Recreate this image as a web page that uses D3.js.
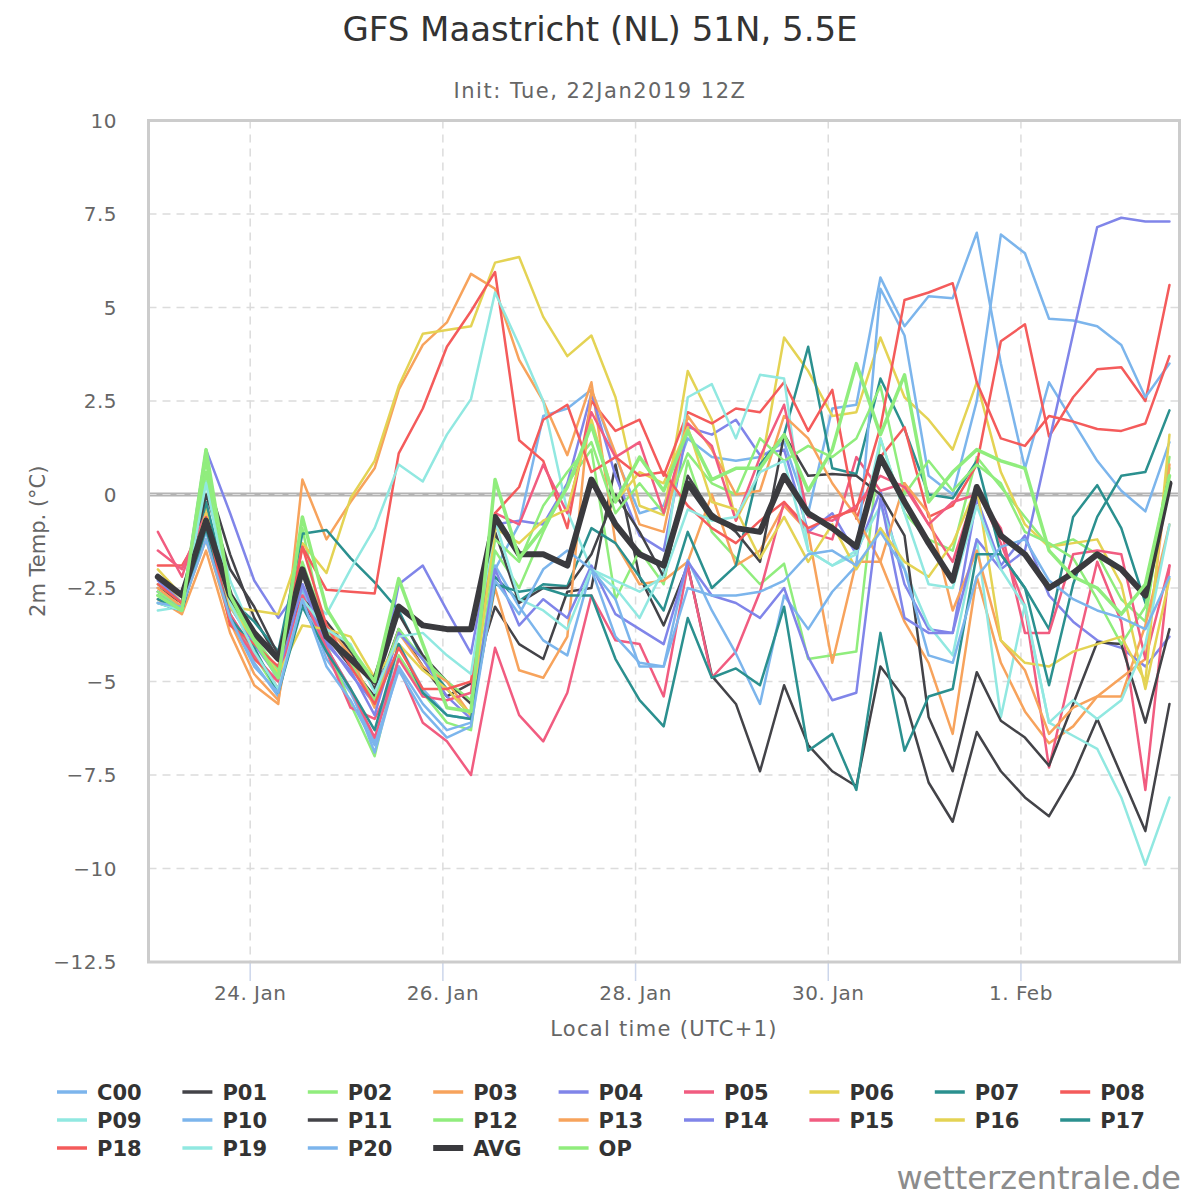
<!DOCTYPE html>
<html>
<head>
<meta charset="utf-8">
<script src="https://cdn.jsdelivr.net/npm/d3@7"></script>
<style>
  html, body { margin: 0; padding: 0; background: #fff; }
  svg { display: block; font-family: "DejaVu Sans", sans-serif; }
</style>
</head>
<body>
<div id="chart"></div>
<script>
/* GFS ensemble plume — Maastricht, 2m temperature */

// first run value is 23 Jan 01:00 local (UTC+1), then every 6 hours
const RUN_START = Date.UTC(2019, 0, 23, 1);
const STEP_HOURS = 6;

const MEMBERS = ['C00', 'P01', 'P02', 'P03', 'P04', 'P05', 'P06', 'P07', 'P08', 'P09', 'P10',
  'P11', 'P12', 'P13', 'P14', 'P15', 'P16', 'P17', 'P18', 'P19', 'P20'];

const C00 = [-2.8,-3.1,-0.9,-3.2,-4.3,-5.2,-2.6,-4.4,-5.3,-6.6,-4.0,-5.2,-5.9,-6.0,
  -2.0,-0.8,2.1,2.3,2.8,1.0,-0.5,-0.3,1.5,1.0,0.9,1.0,1.4,-0.5,2.3,
  2.4,5.8,4.5,5.3,5.25,7.0,3.5,0.7,3.0,1.95,0.9,0.1,-0.45,1.4];
const P01 = [-2.6,-3.0,0.5,-1.6,-3.3,-4.4,-2.9,-3.8,-4.6,-5.4,-3.6,-4.6,-5.4,-5.05,
  -3.0,-4.0,-4.4,-2.6,-2.5,0.8,-2.2,-3.5,-1.9,-4.85,-5.6,-7.4,-5.1,-6.7,-7.4,
  -7.8,-4.6,-5.45,-7.7,-8.75,-6.35,-7.4,-8.1,-8.6,-7.5,-6.0,-7.5,-9.0,-5.6];
const P02 = [-2.4,-2.9,0.9,-3.2,-4.3,-5.3,-0.9,-4.0,-5.6,-7.0,-4.3,-5.3,-6.1,-6.3,
  -1.5,-2.5,-1.0,0.3,1.2,-2.8,-1.5,-2.4,0.9,-1.0,-1.7,-2.4,-1.85,-4.4,-4.3,
  -4.2,1.5,-0.5,-1.2,-1.5,1.0,0.2,-0.6,-1.4,-1.2,-1.6,-2.8,-3.4,1.0];
const P03 = [-2.8,-3.2,-1.5,-3.7,-5.1,-5.6,0.4,-1.2,-0.2,0.7,2.8,4.0,4.6,5.9,
  5.5,3.6,2.5,1.05,3.0,-1.3,-2.4,-2.3,-1.8,0.0,-1.9,-1.5,-0.3,-1.0,-4.5,
  -1.8,-1.8,-3.4,-4.5,-6.4,-2.2,-4.5,-5.8,-6.65,-6.2,-5.4,-5.4,-3.5,-0.8];
const P04 = [-2.7,-3.0,1.2,-0.5,-2.3,-3.3,-2.4,-3.9,-4.8,-5.6,-2.4,-1.9,-3.1,-4.25,
  -0.8,-0.7,-0.8,0.3,2.7,0.5,-1.1,-1.5,1.8,1.6,2.0,1.05,1.2,-1.0,-0.5,
  -1.6,0.1,-2.4,-3.6,-3.7,-0.1,-1.9,-1.1,-2.7,-3.4,-3.9,-4.1,-4.6,-3.8];
const P05 = [-1.0,-2.2,-0.2,-3.2,-4.2,-5.2,-2.5,-4.2,-5.7,-6.0,-4.6,-6.1,-6.6,-7.5,
  -4.1,-5.9,-6.6,-5.3,-2.7,-3.9,-4.0,-5.4,-1.9,-4.9,-4.2,-2.6,-0.2,-1.0,-1.2,
  1.0,0.1,0.3,-0.8,-1.8,0.2,-1.3,-3.0,-7.3,-4.5,-1.8,-3.4,-7.9,-1.9];
const P06 = [-2.2,-2.9,-0.3,-3.0,-3.1,-3.2,-1.3,-2.1,-0.1,0.9,2.9,4.3,4.4,4.5,
  6.2,6.35,4.75,3.7,4.25,2.6,-0.3,-0.55,3.3,2.0,-0.7,0.6,4.2,3.3,2.1,
  2.2,4.2,2.6,2.0,1.2,3.0,0.6,-0.8,-1.4,-1.3,-1.2,-2.4,-5.2,-2.25];
const P07 = [-2.8,-3.1,-0.2,-2.8,-3.4,-4.2,-1.05,-0.95,-1.7,-2.35,-3.1,-4.4,-5.2,-5.9,
  -2.2,-2.85,-2.4,-2.45,-0.9,-1.3,-2.2,-3.1,-1.0,-2.5,-1.9,0.8,1.6,3.95,0.7,
  0.55,3.1,1.75,0.0,-0.1,0.9,-1.6,-2.5,-3.6,-0.6,0.25,-0.9,-2.9,0.2];
const P08 = [-1.9,-1.9,-0.8,-3.4,-4.4,-5.0,-1.4,-2.55,-2.6,-2.65,1.1,2.3,3.95,4.9,
  5.95,1.45,0.9,-0.9,2.5,1.7,2.0,0.5,2.2,1.9,2.3,2.2,3.0,1.7,2.8,
  -0.65,1.0,1.8,-0.6,-0.3,0.8,4.1,4.55,1.55,2.6,3.35,3.4,2.5,5.6];
const P09 = [-3.1,-3.0,0.4,-2.3,-3.8,-5.0,-2.6,-3.2,-2.0,-0.9,0.8,0.35,1.6,2.55,
  5.4,4.0,2.5,-0.45,-2.0,-2.5,-3.3,-2.0,2.6,2.95,1.5,3.2,3.1,-1.5,-1.9,
  -1.5,-0.3,-2.0,-3.5,-4.3,-1.2,-5.95,-2.95,-6.1,-6.45,-6.8,-8.1,-9.9,-8.1];
const P10 = [-2.6,-3.0,-1.0,-3.3,-4.5,-5.4,-2.5,-4.1,-5.2,-6.9,-4.6,-5.6,-6.3,-6.1,
  -1.9,-3.0,-3.9,-4.3,-2.0,-3.8,-4.5,-4.6,-1.75,-3.1,-4.25,-5.6,-2.7,-3.6,-2.6,
  -1.9,5.5,4.25,0.5,0.0,2.5,6.95,6.45,4.7,4.65,4.5,4.0,2.6,3.5];
const P11 = [-2.5,-2.9,0.0,-2.0,-3.0,-4.3,-2.8,-3.4,-4.2,-5.2,-3.2,-4.3,-5.0,-5.6,
  -1.0,-2.9,-2.5,-2.5,-1.6,0.0,-1.0,-2.2,0.5,-0.5,-1.0,-1.8,1.6,0.5,0.55,
  0.5,0.0,-1.1,-5.95,-7.4,-4.75,-6.05,-6.5,-7.25,-5.6,-3.95,-4.0,-6.1,-3.6];
const P12 = [-2.6,-3.0,0.6,-2.9,-3.8,-4.7,-1.8,-3.6,-4.5,-5.5,-3.6,-4.4,-5.0,-5.5,
  -1.2,-1.8,-0.3,0.6,1.4,-0.5,0.3,-0.5,1.1,0.3,0.0,1.5,0.9,1.3,1.0,
  1.5,2.9,0.0,0.9,0.1,0.8,0.3,-1.0,-1.3,-1.7,-2.8,-4.0,-3.0,0.7];
const P13 = [-2.5,-3.0,-1.2,-3.4,-4.8,-5.5,-2.0,-3.5,-4.3,-5.7,-3.7,-4.6,-5.0,-5.9,
  -2.5,-4.7,-4.9,-3.8,2.8,1.1,-0.8,-1.0,2.1,1.2,0.0,0.1,2.1,1.5,0.3,
  -0.6,-1.8,0.3,-0.5,-3.1,-1.5,-3.9,-4.7,-6.4,-5.7,-5.4,-4.9,-4.4,0.8];
const P14 = [-2.3,-2.9,-0.8,-3.0,-4.0,-4.9,-2.4,-4.0,-4.7,-5.9,-3.7,-4.4,-5.4,-6.0,
  -2.0,-3.5,-2.8,-3.3,-1.9,-3.2,-3.6,-4.0,-1.8,-2.7,-2.9,-3.3,-2.5,-4.35,-5.5,
  -5.3,-0.1,-3.3,-3.7,-3.7,-1.2,-2.0,-1.5,1.4,4.3,7.15,7.4,7.3,7.3];
const P15 = [-1.5,-2.0,-0.5,-3.4,-4.3,-5.0,-2.7,-4.1,-5.2,-6.5,-4.4,-5.4,-5.5,-5.3,
  -0.5,-0.8,0.8,-0.5,2.2,1.0,1.4,-0.5,1.9,1.3,-0.7,1.0,2.4,-0.6,-0.7,
  -0.3,0.5,0.2,-0.8,-0.2,0.0,-0.9,-3.7,-3.7,-1.6,-1.5,-1.6,-4.4,-1.9];
const P16 = [-2.0,-2.7,-0.5,-3.0,-3.9,-4.8,-3.5,-3.6,-3.8,-4.9,-4.0,-4.7,-5.2,-5.9,
  -0.9,-1.3,-0.7,-0.4,2.0,-0.2,0.6,0.3,1.8,-0.2,-0.4,-1.7,-0.6,-1.8,-0.8,
  -2.0,-0.9,-1.8,-2.2,-1.3,0.2,-3.9,-4.5,-4.6,-4.2,-4.0,-3.8,-5.0,1.6];
const P17 = [-2.9,-3.1,-0.9,-3.3,-4.1,-5.3,-3.0,-4.2,-5.2,-6.3,-4.0,-5.3,-5.9,-6.0,
  -2.4,-2.6,-2.5,-2.7,-2.7,-4.4,-5.5,-6.2,-3.3,-4.9,-4.65,-5.1,-3.0,-6.85,-6.4,
  -7.9,-3.7,-6.85,-5.4,-5.2,-1.6,-1.6,-2.5,-5.1,-2.4,-0.6,0.5,0.6,2.25];
const P18 = [-2.4,-2.9,-0.6,-3.5,-4.0,-4.6,-1.4,-3.5,-4.6,-5.6,-4.1,-5.2,-5.2,-5.0,
  -0.5,0.2,2.0,2.4,0.6,1.0,0.5,0.6,-0.3,-0.9,-1.3,-0.7,-0.2,-0.9,-0.6,
  -0.4,1.8,5.2,5.4,5.65,3.0,1.5,1.3,2.1,1.95,1.75,1.7,1.9,3.7];
const P19 = [-2.9,-3.1,0.3,-2.9,-4.2,-5.2,-2.8,-3.6,-4.0,-5.3,-3.8,-3.7,-4.3,-4.8,
  -0.7,-2.8,-3.1,-3.6,-2.0,-2.3,-2.6,-2.2,-0.4,-0.7,-0.6,0.6,0.9,-1.5,-1.9,
  -1.6,1.5,-0.5,-2.4,-2.5,-0.3,-2.0,-3.0,-6.1,-5.5,-6.0,-5.5,-4.0,-0.8];
const P20 = [-2.9,-3.0,-1.2,-3.3,-4.6,-5.3,-2.8,-4.6,-5.5,-6.7,-4.7,-5.8,-6.5,-6.2,
  -2.3,-3.2,-2.0,-1.5,-2.0,-2.8,-4.6,-4.6,-2.5,-2.7,-2.7,-2.6,-2.3,-1.6,-1.5,
  -1.9,-1.0,-2.0,-4.3,-4.5,-2.2,-1.4,-1.2,-2.3,-2.8,-3.1,-3.3,-3.6,-2.2];
const AVG = [-2.2,-2.7,-0.7,-2.7,-3.7,-4.4,-2.0,-3.8,-4.4,-5.0,-3.0,-3.5,-3.6,-3.6,
  -0.6,-1.6,-1.6,-1.9,0.4,-0.8,-1.6,-1.9,0.3,-0.6,-0.9,-1.0,0.5,-0.5,-0.9,
  -1.4,1.0,-0.2,-1.3,-2.3,0.2,-1.1,-1.6,-2.5,-2.1,-1.6,-2.0,-2.7,0.3];
const OP = [-2.7,-3.1,1.2,-2.7,-3.9,-4.9,-0.6,-3.05,-4.1,-5.0,-2.25,-4.0,-5.7,-5.8,
  0.4,-1.7,-0.9,0.2,1.85,-0.2,1.0,0.1,1.7,0.4,0.7,0.7,1.6,0.1,1.2,
  3.5,1.6,3.2,-0.2,0.6,1.2,0.9,0.7,-1.5,-2.2,-2.5,-3.2,-2.4,0.5];

const MEMBER_VALUES = [C00, P01, P02, P03, P04, P05, P06, P07, P08, P09, P10,
  P11, P12, P13, P14, P15, P16, P17, P18, P19, P20];

const Y_TICKS = [10, 7.5, 5, 2.5, 0, -2.5, -5, -7.5, -10, -12.5];
const X_TICK_DATES = [[2019, 0, 24], [2019, 0, 26], [2019, 0, 28], [2019, 0, 30], [2019, 1, 1]];
const X_TICK_LABELS = ['24. Jan', '26. Jan', '28. Jan', '30. Jan', '1. Feb'];

const PALETTE = ['#7cb5ec', '#434348', '#90ed7d', '#f7a35c', '#8085e9',
  '#f15c80', '#e4d354', '#2b908f', '#f45b5b', '#91e8e1'];

const W = 1200, H = 1200;
const plot = { left: 148.5, right: 1179.5, top: 120.5, bottom: 962 };

const svg = d3.select('#chart').append('svg')
  .attr('width', W).attr('height', H).attr('viewBox', `0 0 ${W} ${H}`);

const times = AVG.map((_, i) => new Date(RUN_START + i * STEP_HOURS * 3600e3));

const x = d3.scaleUtc()
  .domain([new Date(Date.UTC(2019, 0, 22, 22, 40)), new Date(Date.UTC(2019, 1, 2, 15, 30))])
  .range([plot.left, plot.right]);
const y = d3.scaleLinear().domain([-12.5, 10]).range([plot.bottom, plot.top]);

// Titles
svg.append('text').attr('x', 600).attr('y', 41).attr('text-anchor', 'middle')
  .attr('font-size', 34).attr('fill', '#333').text('GFS Maastricht (NL) 51N, 5.5E');
svg.append('text').attr('x', 600).attr('y', 98).attr('text-anchor', 'middle')
  .attr('font-size', 21).attr('letter-spacing', 1.5).attr('fill', '#666')
  .text('Init: Tue, 22Jan2019 12Z');

// Grid
const tickDates = X_TICK_DATES.map(d => new Date(Date.UTC(d[0], d[1], d[2])));
const grid = svg.append('g');
grid.selectAll('.hgrid').data(Y_TICKS).enter().append('line')
  .attr('x1', plot.left).attr('x2', plot.right)
  .attr('y1', d => y(d)).attr('y2', d => y(d))
  .attr('stroke', '#dcdcdc').attr('stroke-width', 1.5).attr('stroke-dasharray', '8,6');
grid.selectAll('.vgrid').data(tickDates).enter().append('line')
  .attr('x1', d => x(d)).attr('x2', d => x(d))
  .attr('y1', plot.top).attr('y2', plot.bottom)
  .attr('stroke', '#dcdcdc').attr('stroke-width', 1.5).attr('stroke-dasharray', '8,6');

// Zero plot line
svg.append('line').attr('x1', plot.left).attr('x2', plot.right)
  .attr('y1', y(0)).attr('y2', y(0))
  .attr('stroke', '#b4b4b4').attr('stroke-width', 4);
svg.append('line').attr('x1', plot.left).attr('x2', plot.right)
  .attr('y1', y(0)).attr('y2', y(0))
  .attr('stroke', '#dedede').attr('stroke-width', 1.2).attr('stroke-dasharray', '8,6');

// Axes labels
svg.append('g').selectAll('text').data(Y_TICKS).enter().append('text')
  .attr('x', 117).attr('y', d => y(d) + 7).attr('text-anchor', 'end')
  .attr('font-size', 20).attr('letter-spacing', 0.5).attr('fill', '#666')
  .text(d => d3.format('')(d).replace('-', '\u2212'));

svg.append('g').selectAll('line').data(tickDates).enter().append('line')
  .attr('x1', d => x(d)).attr('x2', d => x(d))
  .attr('y1', plot.bottom).attr('y2', plot.bottom + 19)
  .attr('stroke', '#ccd6eb').attr('stroke-width', 1.5);
svg.append('g').selectAll('text').data(tickDates).enter().append('text')
  .attr('x', d => x(d)).attr('y', 1000).attr('text-anchor', 'middle')
  .attr('font-size', 20).attr('letter-spacing', 0.5).attr('fill', '#666')
  .text((d, i) => X_TICK_LABELS[i]);

svg.append('text').attr('x', (plot.left + plot.right) / 2).attr('y', 1036)
  .attr('text-anchor', 'middle').attr('font-size', 21).attr('letter-spacing', 1.3)
  .attr('fill', '#666').text('Local time (UTC+1)');
svg.append('text').attr('transform', `translate(45,${(plot.top + plot.bottom) / 2}) rotate(-90)`)
  .attr('text-anchor', 'middle').attr('font-size', 21).attr('fill', '#666')
  .text('2m Temp. (\u00b0C)');

// Series
const line = d3.line().x((d, i) => x(times[i])).y(d => y(d));
const series = MEMBERS.map((name, k) => ({ name, values: MEMBER_VALUES[k], color: PALETTE[k % 10], width: 2.5 }));
series.push({ name: 'AVG', values: AVG, color: '#3a3a3e', width: 6 });
series.push({ name: 'OP', values: OP, color: '#90ed7d', width: 3.5 });

const clip = svg.append('clipPath').attr('id', 'plotclip').append('rect')
  .attr('x', plot.left).attr('y', plot.top)
  .attr('width', plot.right - plot.left).attr('height', plot.bottom - plot.top);

svg.append('g').attr('clip-path', 'url(#plotclip)')
  .selectAll('path').data(series).enter().append('path')
  .attr('d', d => line(d.values))
  .attr('fill', 'none').attr('stroke', d => d.color)
  .attr('stroke-width', d => d.width)
  .attr('stroke-linejoin', 'round').attr('stroke-linecap', 'round');

// Plot border
svg.append('rect').attr('x', plot.left).attr('y', plot.top)
  .attr('width', plot.right - plot.left).attr('height', plot.bottom - plot.top)
  .attr('fill', 'none').attr('stroke', '#cccccc').attr('stroke-width', 3);

// Legend: 9 columns
const legend = svg.append('g');
const items = legend.selectAll('g').data(series).enter().append('g')
  .attr('transform', (d, i) => `translate(${57 + (i % 9) * 125.4},${1092 + Math.floor(i / 9) * 28})`);
items.append('line').attr('x1', 0).attr('x2', 30).attr('y1', 0).attr('y2', 0)
  .attr('stroke', d => d.color).attr('stroke-width', d => d.name === 'AVG' ? 6 : 3.5);
items.append('text').attr('x', 40).attr('y', 8)
  .attr('font-size', 21).attr('font-weight', 'bold').attr('fill', '#333')
  .text(d => d.name);

// Watermark
svg.append('text').attr('x', 1181).attr('y', 1189).attr('text-anchor', 'end')
  .attr('font-size', 32).attr('fill', '#8c8c8c').text('wetterzentrale.de');
</script>
</body>
</html>
